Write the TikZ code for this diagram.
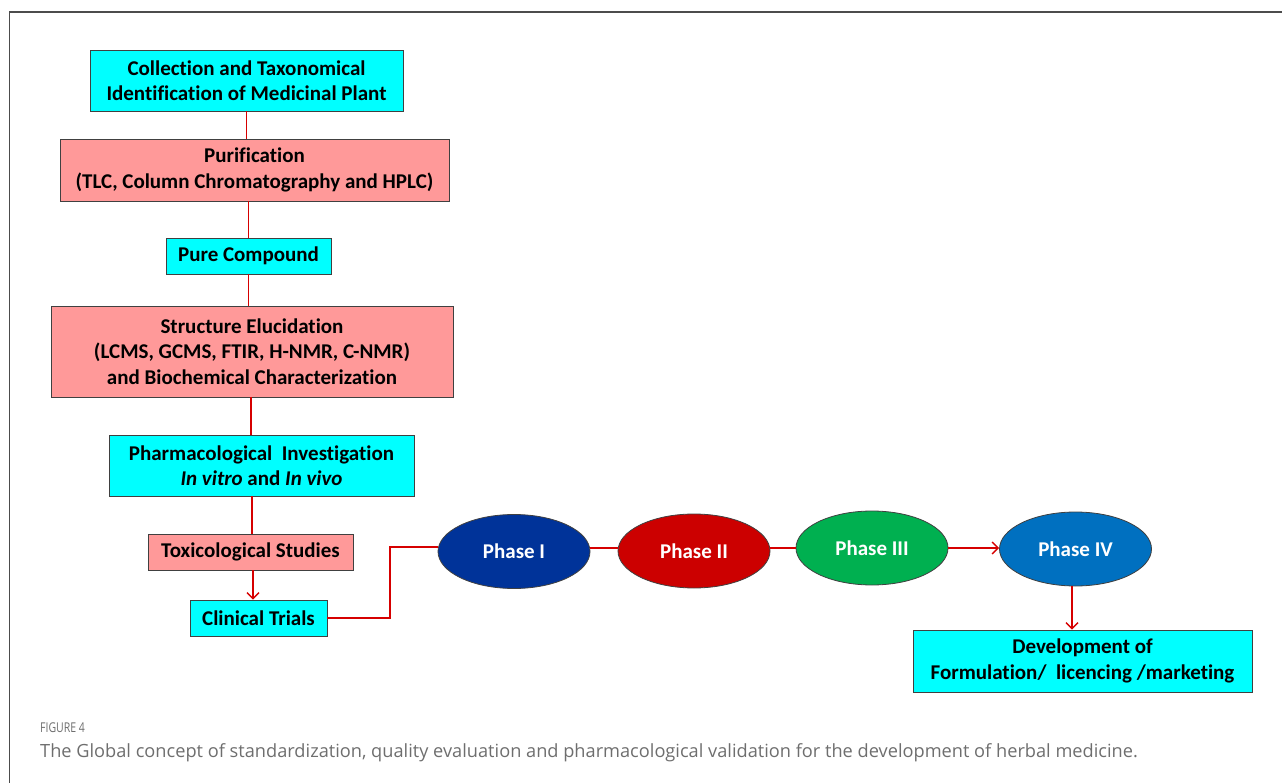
\documentclass[tikz,border=0pt]{standalone}
\usepackage{fontspec}
\setmainfont{Carlito}[Ligatures=NoCommon]
\newfontfamily\capfont{Open Sans}
\usetikzlibrary{shapes.geometric,arrows.meta}
\definecolor{boxcyan}{RGB}{0,255,255}
\definecolor{boxpink}{RGB}{255,153,153}
\definecolor{linkred}{RGB}{214,0,0}
\definecolor{phaseone}{RGB}{0,51,153}
\definecolor{phasetwo}{RGB}{204,0,0}
\definecolor{phasethree}{RGB}{0,176,80}
\definecolor{phasefour}{RGB}{0,112,192}
\definecolor{capgray}{RGB}{110,110,110}
\begin{document}
\begin{tikzpicture}[x=1pt,y=-1pt,
	box/.style={draw=black!75,line width=0.8pt,align=center,inner sep=0pt,
		font=\fontsize{21}{25.5}\selectfont\bfseries},
	cyanbox/.style={box,fill=boxcyan},
	pinkbox/.style={box,fill=boxpink},
	phase/.style={ellipse,draw=black!75,line width=0.8pt,inner sep=0pt,
		minimum width=152,minimum height=74,text=white,
		font=\fontsize{21}{25}\selectfont\bfseries},
	link/.style={draw=linkred,line width=1.4pt},
	linkarrow/.style={link,-{Straight Barb[length=6pt,width=12pt,line width=1.4pt]}}]
				\useasboundingbox (0,0) rectangle (1282,783);
				\draw[black!70,line width=1.5pt] (9.5,783) -- (9.5,12) -- (1282,12);
				% left column
				\node[cyanbox,minimum width=313,minimum height=61] (collect) at (246.5,80.5)
					{Collection and Taxonomical\\Identification of Medicinal Plant};
				\node[pinkbox,minimum width=389,minimum height=62] (purif) at (254.5,170)
					{Purification\\(TLC, Column Chromatography and HPLC)};
				\node[cyanbox,minimum width=165,minimum height=36] (pure) at (248.5,256)
					{Pure Compound};
				\node[pinkbox,minimum width=402,minimum height=91] (struct) at (252,351.5)
					{Structure Elucidation\\(LCMS, GCMS, FTIR, H-NMR, C-NMR)\\and Biochemical Characterization};
				\node[cyanbox,minimum width=305,minimum height=61] (pharm) at (261.5,465.5)
					{Pharmacological\ \ Investigation\\\textit{In vitro} and \textit{In vivo}};
				\node[pinkbox,minimum width=205,minimum height=36] (toxic) at (250.5,552)
					{Toxicological Studies};
				\node[cyanbox,minimum width=137,minimum height=36] (clinic) at (258.5,618)
					{Clinical Trials};
				% phases
				\node[phase,fill=phaseone] (ph1) at (514,551.5) {Phase I};
				\node[phase,fill=phasetwo] (ph2) at (694,551) {Phase II};
				\node[phase,fill=phasethree] (ph3) at (872,548) {Phase III};
				\node[phase,fill=phasefour] (ph4) at (1075.5,549) {Phase IV};
				\node[cyanbox,minimum width=339,minimum height=62] (devel) at (1082.5,661)
					{Development of\\Formulation/\ \ licencing /marketing};
				\coordinate (bend) at (390,547);
				% links
				\draw[link] (collect.south) -- (collect.south |- purif.north);
				\draw[link] (pure.north) -- (pure.north |- purif.south);
				\draw[link] (pure.south) -- (pure.south |- struct.north);
				\draw[link] (struct.south -| 251,0) -- (251,0 |- pharm.north);
				\draw[link] (toxic.north -| 252,0) -- (252,0 |- pharm.south);
				\draw[linkarrow] (toxic.south -| 253,0) -- (253,0 |- clinic.north);
				\draw[link] (clinic.east) -| (bend) -- (ph1.west |- bend);
				\draw[link] (ph1.east |- 0,548) -- (ph2.west |- 0,548);
				\draw[link] (ph2.east |- 0,548) -- (ph3.west |- 0,548);
				\draw[linkarrow] (ph3.east) -- (ph4.west |- ph3.east);
				\draw[linkarrow] (ph4.south -| 1072,0) -- (1072,0 |- devel.north);
				% caption
				\node[anchor=base west,inner sep=0pt,text=capgray,font=\capfont\fontsize{13.5}{14}\selectfont] (fig) at (40,732)
					{\scalebox{0.78}[1]{FIGURE 4}};
				\node[anchor=base west,inner sep=0pt,text=capgray,font=\capfont\fontsize{18.2}{20}\selectfont] (cap) at (40,757)
					{The Global concept of standardization, quality evaluation and pharmacological validation for the development of herbal medicine.};
\end{tikzpicture}
\end{document}
